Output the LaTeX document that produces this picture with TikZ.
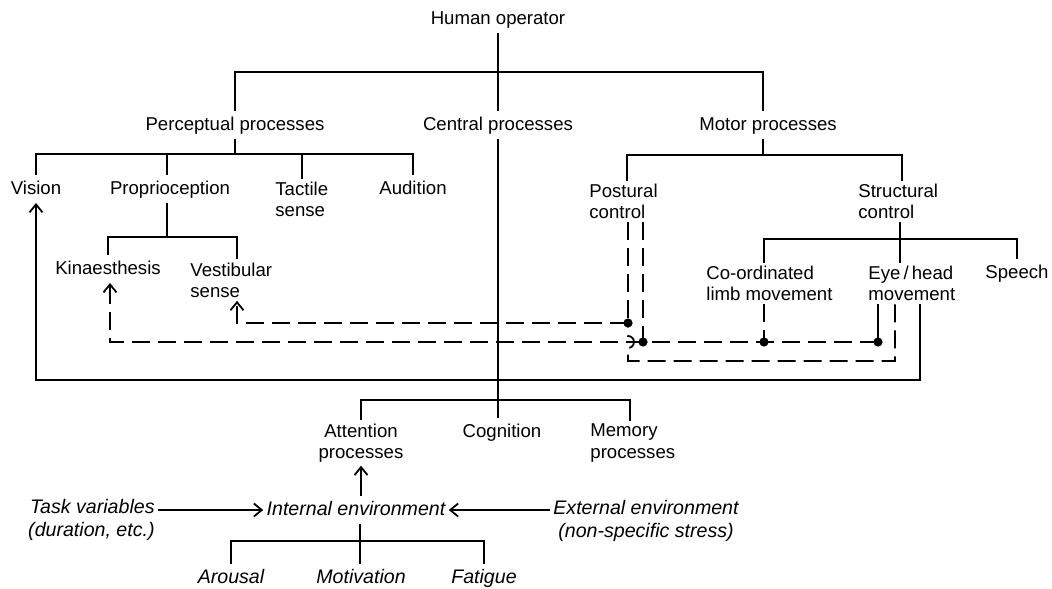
\documentclass[tikz,border=0pt]{standalone}
\usepackage{fontspec}
\setmainfont{Liberation Sans}
\usetikzlibrary{arrows.meta}
\begin{document}
\begin{tikzpicture}[x=0.5pt,y=-0.5pt,
  lbl/.style={font=\fontsize{9.3}{10.6}\selectfont, inner sep=1.5pt},
  lblL/.style={lbl, align=left},
  one/.style={text height=1.55ex, text depth=0.45ex},
  itl/.style={font=\fontsize{9.8}{11.2}\selectfont\itshape, inner sep=1.5pt},
  wire/.style={line width=0.9pt},
  fb/.style={wire, dash pattern=on 9pt off 4pt},
  tip/.style={-{Straight Barb[length=4pt,width=6.5pt,line width=0.9pt]}},
  jn/.style={circle, fill, inner sep=0pt, minimum size=4.6pt}
]
\useasboundingbox (0,0) rectangle (1052,588);

% ---- labels ----
\node[lbl,one] (ho)  at (498,19)  {Human operator};
\node[lbl,one] (pp)  at (235,125) {Perceptual processes};
\node[lbl,one] (cp)  at (498,125) {Central processes};
\node[lbl,one] (mp)  at (768,125) {Motor processes};

\node[lbl,one] (vis) at (36,189)  {Vision};
\node[lbl,one] (pro) at (170,189) {Proprioception};
\node[lblL,anchor=west] (tac) at (272,199.5) {Tactile\\sense};
\node[lbl,one] (aud) at (413,189) {Audition};
\node[lbl,one] (kin) at (108,269) {Kinaesthesis};
\node[lblL,anchor=west] (ves) at (187,280) {Vestibular\\sense};

\node[lblL,anchor=west] (pos) at (586,201.5) {Postural\\control};
\node[lblL,anchor=west] (str) at (855,201.5) {Structural\\control};
\node[lblL,anchor=west] (lim) at (703,283.5) {Co-ordinated\\limb movement};
\node[lblL,anchor=west] (eye) at (865,283.5) {Eye\,/\,head\\movement};
\node[lbl,one] (spe) at (1017,273) {Speech};

\node[lbl,align=center] (att) at (361,443) {Attention\\processes};
\node[lbl,one] (cog) at (502,432) {Cognition};
\node[lblL,anchor=west] (mem) at (587,443) {Memory\\processes};

\node[itl,align=right,anchor=east] (tv) at (158,520) {Task variables\\(duration, etc.)};
\node[itl,one] (ie) at (356,510) {Internal environment};
\node[itl,align=center] (ee) at (646,521) {External environment\\(non-specific stress)};
\node[itl,one] (aro) at (231,578) {Arousal};
\node[itl,one] (mot) at (361,578) {Motivation};
\node[itl,one] (fat) at (484,578) {Fatigue};

% ---- bar junction points ----
\coordinate (b0)  at (498,72);
\coordinate (b0R) at (763,72);
\coordinate (p1)  at (235,154);
\coordinate (tx)  at (302,154);
\coordinate (q1)  at (167,237);
\coordinate (q2)  at (237,237);
\coordinate (mb)  at (763,155);
\coordinate (mbL) at (627,155);
\coordinate (mbR) at (902,155);
\coordinate (sb)  at (900,239);
\coordinate (sbL) at (764,239);
\coordinate (sbR) at (1017,239);
\coordinate (cb)  at (498,400);
\coordinate (cbR) at (630,400);
\coordinate (ab)  at (360,541);

% ---- hierarchy ----
\draw[wire] (ho.south) -- (cp.north);
\draw[wire] (pp.north) |- (b0) -- (b0R) -- (b0R |- mp.north);
\draw[wire] (cp.south) -- (cp.south |- cog.north);

\draw[wire] (pp.south) -- (p1);
\draw[wire] (vis.north) |- (p1) -| (aud.north);
\draw[wire] (pro.north -| q1) -- (q1 |- p1);
\draw[wire] (tx) -- (tx |- tac.north);
\draw[wire] (pro.south -| q1) -- (q1);
\draw[wire] (kin.north) |- (q1) -- (q2) -- (q2 |- ves.north);

\draw[wire] (mp.south -| mb) -- (mb);
\draw[wire] (mbL |- pos.north) -- (mbL) -- (mbR) -- (mbR |- str.north);
\draw[wire] (str.south -| sb) -- (sb |- eye.north);
\draw[wire] (sbL |- lim.north) -- (sbL) -- (sbR) -- (sbR |- spe.north);

\draw[wire] (att.north) |- (cb) -- (cbR) -- (cbR |- mem.north);

% ---- feedback paths ----
\coordinate (j1) at (628,323);
\coordinate (j2) at (643,342);
\coordinate (j3) at (764,342);
\coordinate (j4) at (878,342);
\coordinate (va) at (237,323);
\coordinate (ka) at (110,342);
\coordinate (l1) at (895,361);
\coordinate (l2) at (628,361);
\coordinate (v1) at (920,380);
\coordinate (v2) at (36,380);

\draw[fb] (pos.south -| j1) -- (j1);
\draw[fb] (pos.south -| j2) -- (j2);
\draw[fb] (lim.south -| j3) -- (j3);
\draw[wire] (eye.south -| j4) -- (j4);
\draw[fb,tip] (j1) -- (va) -- (va |- ves.south);
\draw[fb,tip] (j4) -- (ka) -- (ka |- kin.south);
\draw[fb] (eye.south -| l1) -- (l1) -- (l2) -- (628,348)
  arc[start angle=90, end angle=-90, radius=6] -- (j1);
\draw[wire,tip] (eye.south -| v1) -- (v1) -- (v2) -- (vis.south);

\node[jn] (d1) at (j1) {};
\node[jn] (d2) at (j2) {};
\node[jn] (d3) at (j3) {};
\node[jn] (d4) at (j4) {};

% ---- influences on attention ----
\draw[wire,tip] (ie.north -| att) -- (att.south);
\draw[wire,tip] (tv.east |- ie) -- (ie.west);
\draw[wire,tip] (ee.west |- ie) -- (ie.east);
\draw[wire] (ie.south -| ab) -- (ab |- mot.north);
\draw[wire] (aro.north) |- (ab) -| (fat.north);
\end{tikzpicture}
\end{document}
